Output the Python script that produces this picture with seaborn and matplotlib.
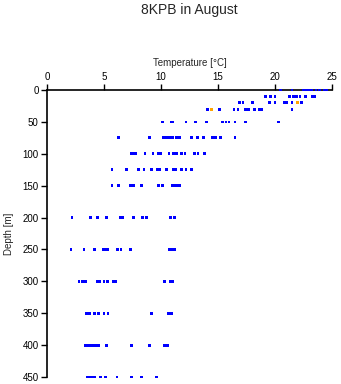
import matplotlib
matplotlib.use("Agg")
import matplotlib.pyplot as plt
import seaborn as sns
import pandas as pd

# Depth levels (m) and temperature readings (°C) at each level
depth_levels = [0, 10, 20, 30, 50, 75, 100, 125, 150, 200, 250, 300, 350, 400, 450]
temps_blue = [
    [20.5, 21.5, 22.5, 22.75, 23.0, 23.2, 23.6, 23.9, 24.3, 24.5],
    [19.2, 19.6, 20.0, 21.3, 21.6, 21.9, 22.2, 22.7, 23.3, 23.5],
    [16.9, 17.2, 18.0, 19.5, 20.0, 20.85, 21.0, 21.5, 22.3],
    [14.1, 15.1, 16.4, 16.75, 17.4, 17.7, 18.2, 18.6, 18.8, 21.5],
    [10.1, 10.9, 11.0, 12.2, 13.0, 14.0, 15.4, 15.7, 15.96, 16.5, 17.4, 20.3],
    [6.3, 9.0, 10.2, 10.4, 10.6, 10.8, 11.0, 11.35, 11.6, 12.7, 13.2, 13.7, 14.5, 14.8, 15.2, 16.5],
    [7.4, 7.6, 7.8, 8.6, 9.3, 9.8, 10.0, 10.7, 11.1, 11.35, 11.8, 12.1, 12.95, 13.25, 13.8],
    [5.7, 7.0, 8.0, 8.5, 9.2, 9.7, 9.9, 10.5, 11.1, 11.3, 11.8, 12.2, 12.7],
    [5.7, 6.3, 7.3, 7.6, 8.3, 9.8, 10.1, 11.0, 11.2, 11.4, 11.64],
    [2.2, 3.8, 4.4, 5.2, 6.4, 6.55, 6.67, 7.6, 8.4, 8.7, 10.8, 11.2],
    [2.1, 3.25, 4.2, 4.98, 5.2, 5.35, 6.2, 6.5, 7.3, 10.7, 10.95, 11.2],
    [2.8, 3.1, 3.37, 4.4, 4.6, 5.0, 5.3, 5.8, 6.0, 10.3, 10.8, 11.05],
    [3.45, 3.7, 4.2, 4.5, 5.0, 5.35, 9.2, 10.65, 10.9],
    [3.4, 3.6, 3.8, 4.0, 4.27, 4.5, 5.2, 7.4, 9.0, 10.3, 10.6],
    [3.5, 3.75, 3.98, 4.2, 4.7, 5.1, 6.14, 7.4, 8.3, 9.6],
]
orange_depths = [20, 30]
orange_temps = [22.0, 14.4]

x_ticks = [0, 5, 10, 15, 20, 25]
y_ticks = [0, 50, 100, 150, 200, 250, 300, 350, 400, 450]

rows = []
for d, ts in zip(depth_levels, temps_blue):
    for t in ts:
        rows.append({"Temperature": t, "Depth": d, "group": "main"})
for d, t in zip(orange_depths, orange_temps):
    rows.append({"Temperature": t, "Depth": d, "group": "other"})
df = pd.DataFrame(rows)

sns.set_style("ticks")
plt.rcParams["font.family"] = ["Liberation Sans", "DejaVu Sans"]

fig = plt.figure(figsize=(3.41, 3.84), dpi=100)
ax = fig.add_axes([47 / 341, 1 - 377 / 384, 285 / 341, 287 / 384])

sns.scatterplot(data=df, x="Temperature", y="Depth", hue="group",
                palette={"main": "#0000ff", "other": "#ffa500"},
                marker="s", s=4, linewidth=0, legend=False, ax=ax,
                clip_on=False, zorder=3)

ax.set_xlim(0, 25)
ax.set_ylim(450, 0)
ax.set_xticks(x_ticks)
ax.set_yticks(y_ticks)
ax.xaxis.set_ticks_position("top")
ax.xaxis.set_label_position("top")
ax.spines["right"].set_visible(False)
ax.spines["bottom"].set_visible(False)
ax.spines["top"].set_color("black")
ax.spines["left"].set_color("black")
ax.spines["top"].set_linewidth(1.2)
ax.spines["left"].set_linewidth(1.2)
ax.tick_params(axis="both", labelsize=7, length=4, width=1, colors="black", pad=2)
ax.set_xlabel("Temperature [°C]", fontsize=7, labelpad=4)
ax.set_ylabel("Depth [m]", fontsize=7, labelpad=6)
ax.set_facecolor("white")
fig.patch.set_facecolor("white")
fig.text(189.5 / 341, 1 - 10 / 384, "8KPB in August", ha="center", va="center", fontsize=10)

fig.savefig("out.png", dpi=100)
